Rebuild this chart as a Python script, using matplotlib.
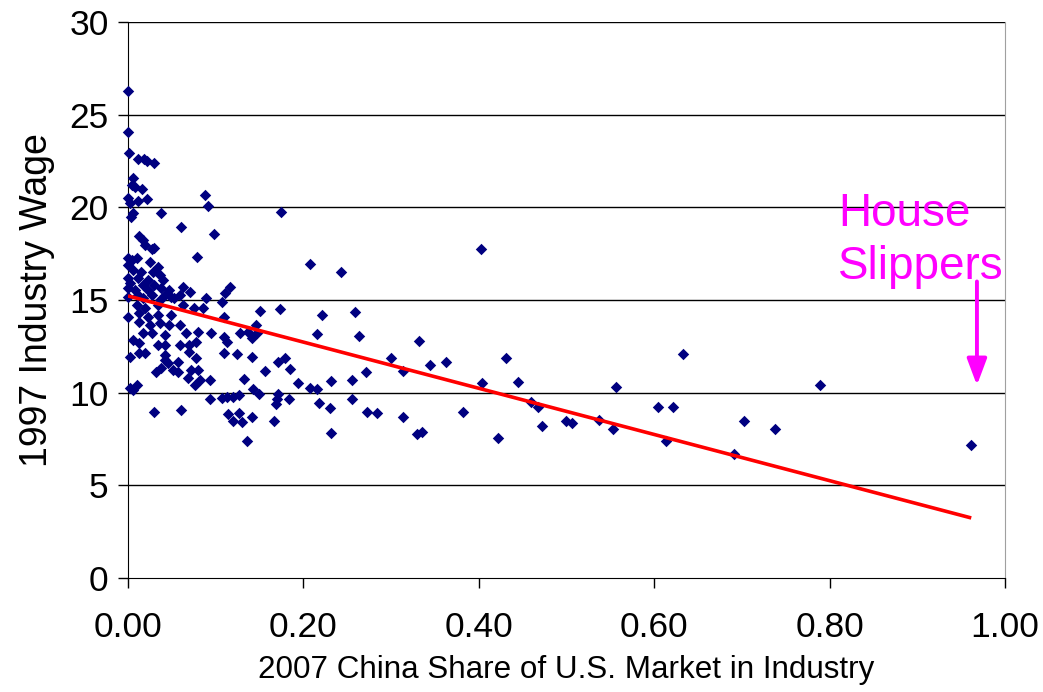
import matplotlib
matplotlib.use("Agg")
import matplotlib.pyplot as plt
import numpy as np

plt.rcParams['font.family'] = ['Liberation Sans', 'DejaVu Sans']

# 2007 China share of U.S. market (x) vs 1997 industry wage (y)
china_share = [
    0.000, 0.000,
    0.001, 0.011, 0.018, 0.022, 0.030, 0.006, 0.005, 0.008, 0.016,
    0.000, 0.002, 0.011, 0.022, 0.088, 0.091, 0.006, 0.003, 0.038,
    0.061, 0.098, 0.012, 0.017, 0.019, 0.030,
    0.027, 0.079, 0.000, 0.004, 0.010, 0.000, 0.025, 0.034,
    0.006, 0.015, 0.029, 0.036, 0.000, 0.011, 0.023, 0.040,
    0.002, 0.017, 0.030, 0.000, 0.008, 0.023, 0.038, 0.047, 0.063,
    0.011, 0.027, 0.042, 0.049, 0.000, 0.059, 0.071,
    0.017, 0.036, 0.053, 0.089,
    0.010, 0.019, 0.034, 0.063, 0.075, 0.085,
    0.000, 0.013, 0.023, 0.034, 0.049,
    0.013, 0.025, 0.036, 0.047, 0.059,
    0.017, 0.027, 0.042, 0.066, 0.080, 0.095,
    0.006, 0.013, 0.034, 0.042, 0.059, 0.070, 0.078,
    0.002, 0.013, 0.019, 0.042, 0.042, 0.070, 0.078,
    0.057, 0.046, 0.038, 0.032, 0.051, 0.057, 0.072, 0.080,
    0.068, 0.082, 0.093, 0.076, 0.002, 0.010, 0.006,
    0.093, 0.030, 0.061,
    0.175, 0.2075, 0.243, 0.116, 0.111, 0.107, 0.150, 0.173, 0.221, 0.109, 0.146,
    0.128, 0.137, 0.141, 0.147, 0.215, 0.109, 0.1125, 0.109, 0.124, 0.141,
    0.171, 0.179, 0.156, 0.185, 0.132, 0.194, 0.231, 0.143, 0.149, 0.2075,
    0.216, 0.107, 0.1125, 0.120, 0.126, 0.171, 0.170, 0.169, 0.184, 0.218,
    0.230, 0.114, 0.126, 0.120, 0.130, 0.141, 0.1665, 0.231, 0.136,
    0.4025, 0.259, 0.263, 0.332, 0.2995, 0.344, 0.3626, 0.313, 0.271, 0.255,
    0.404, 0.255, 0.272, 0.2835, 0.313, 0.3816, 0.330, 0.335, 0.422,
    0.431, 0.445, 0.633, 0.557, 0.789, 0.459, 0.468, 0.604, 0.621, 0.472,
    0.4997, 0.506, 0.537, 0.553, 0.613, 0.691, 0.702, 0.7375, 0.9615,
]
wage_1997 = [
    26.30, 24.05,
    22.92, 22.63, 22.63, 22.49, 22.41, 21.57, 21.21, 21.12, 20.98,
    20.49, 20.25, 20.35, 20.44, 20.67, 20.08, 19.71, 19.47, 19.68,
    18.96, 18.55, 18.47, 18.24, 17.97, 17.79,
    17.75, 17.32, 17.25, 17.16, 17.25, 16.89, 17.07, 16.80,
    16.62, 16.53, 16.53, 16.35, 16.17, 16.17, 16.08, 16.08,
    15.90, 15.81, 15.81, 15.63, 15.54, 15.54, 15.63, 15.54, 15.72,
    15.27, 15.27, 15.27, 15.18, 15.18, 15.27, 15.45,
    15.09, 15.00, 15.09, 15.09,
    14.73, 14.55, 14.73, 14.73, 14.55, 14.55,
    14.10, 14.29, 14.10, 14.19, 14.19,
    13.83, 13.65, 13.75, 13.65, 13.65,
    13.21, 13.21, 13.11, 13.21, 13.29, 13.21,
    12.84, 12.67, 12.57, 12.57, 12.57, 12.57, 12.75,
    11.94, 12.13, 12.13, 12.03, 11.76, 12.21, 11.86,
    11.67, 11.59, 11.32, 11.13, 11.22, 11.13, 11.22, 11.22,
    10.78, 10.69, 10.69, 10.42, 10.24, 10.42, 10.15,
    9.64, 8.94, 9.07,
    19.77, 16.95, 16.53, 15.72, 15.40, 14.91, 14.43, 14.52, 14.19, 14.07, 13.65,
    13.21, 13.29, 12.94, 13.21, 13.17, 13.02, 12.75, 12.13, 12.09, 11.94,
    11.67, 11.86, 11.19, 11.26, 10.72, 10.54, 10.63, 10.18, 9.93, 10.24,
    10.20, 9.70, 9.75, 9.78, 9.88, 9.93, 9.64, 9.39, 9.66, 9.43,
    9.19, 8.85, 8.89, 8.47, 8.44, 8.67, 8.47, 7.81, 7.41,
    17.74, 14.37, 13.06, 12.81, 11.86, 11.49, 11.67, 11.19, 11.10, 10.69,
    10.54, 9.64, 8.98, 8.92, 8.67, 8.98, 7.75, 7.90, 7.54,
    11.85, 10.60, 12.10, 10.30, 10.40, 9.50, 9.25, 9.20, 9.20, 8.20,
    8.45, 8.37, 8.55, 8.05, 7.40, 6.70, 8.45, 8.05, 7.20,
]

# linear trend line end points (as drawn)
trend_x = [0.0, 0.9615]
trend_y = [15.22, 3.24]

yticks = [0, 5, 10, 15, 20, 25, 30]
xticks = [0.0, 0.2, 0.4, 0.6, 0.8, 1.0]

fig = plt.figure(figsize=(10.43, 6.92), dpi=100)
ax = fig.add_axes([128/1043, 1 - 578/692, (1005 - 128)/1043, (578 - 22)/692])

for yv in yticks[1:]:
    ax.axhline(yv, color='black', lw=1.0, zorder=1)

ax.scatter(china_share, wage_1997, marker='D', s=34, color='#000080',
           linewidths=0, zorder=3, clip_on=False)
ax.plot(trend_x, trend_y, color='#ff0000', lw=2.6, zorder=4, solid_capstyle='butt')

ax.text(0.81, 18.2, 'House\nSlippers', color='#ff00ff', fontsize=33,
        ha='left', va='center', linespacing=1.25, zorder=5)
ax.annotate('', xy=(0.968, 10.4), xytext=(0.968, 16.0),
            arrowprops=dict(arrowstyle='-|>,head_length=1.6,head_width=0.6',
                            color='#ff00ff', lw=2.8, shrinkA=0, shrinkB=0),
            zorder=5)

ax.set_xlim(0, 1.0)
ax.set_ylim(0, 30)
ax.set_xticks(xticks)
ax.set_xticklabels(['%.2f' % v for v in xticks])
ax.set_yticks(yticks)
ax.set_yticklabels([str(v) for v in yticks])
ax.tick_params(axis='both', direction='out', length=7, width=1, color='black',
               labelsize=25.5)
ax.tick_params(axis='x', pad=17)
ax.tick_params(axis='y', pad=7)

ax.spines['top'].set_visible(False)
ax.spines['right'].set_color('#a0a0a0')
ax.spines['left'].set_color('black')
ax.spines['bottom'].set_color('black')

ax.set_xlabel('2007 China Share of U.S. Market in Industry', fontsize=22.6, labelpad=8)
ax.set_ylabel('1997 Industry Wage', fontsize=27, labelpad=10)

fig.savefig('out.png', dpi=100, facecolor='white')
